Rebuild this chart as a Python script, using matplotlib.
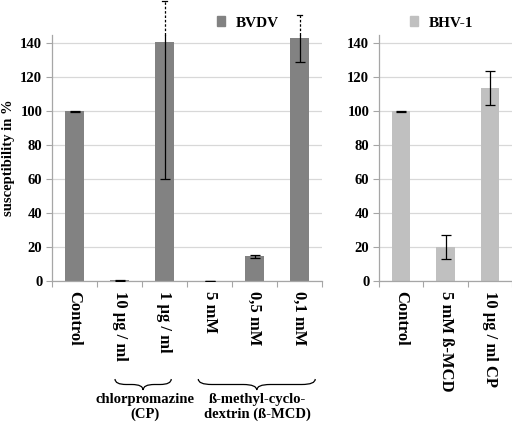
import matplotlib

matplotlib.use("Agg")
import matplotlib.pyplot as plt
import matplotlib.transforms as mtransforms
from matplotlib.patches import Patch, PathPatch
from matplotlib.path import Path

plt.rcParams["font.family"] = ["Liberation Serif", "DejaVu Serif"]
plt.rcParams["font.weight"] = "bold"

# BVDV panel
bvdv_labels = ["Control", "10 µg / ml", "1 µg / ml", "5 mM", "0,5 mM", "0,1 mM"]
bvdv_values = [100, 0.3, 141, 0.2, 14.5, 143]
bvdv_err_low = [0.3, 0.3, 81, 0.0, 0.7, 14]
bvdv_err_high = [0.3, 0.3, 24, 0.0, 0.7, 14]

# BHV-1 panel
bhv_labels = ["Control", "5 mM ß-MCD", "10 µg / ml CP"]
bhv_values = [100, 20, 114]
bhv_err = [0.3, 7, 10]

yticks = [0, 20, 40, 60, 80, 100, 120, 140]
YTOP = 145

DARK = "#828282"
LIGHT = "#c0c0c0"
GRID = "#d8d8d8"
AXIS = "#a6a6a6"

W, H = 512, 426
fig = plt.figure(figsize=(W / 100, H / 100), dpi=100)


def px_axes(x0, x1, y0, y1):
    return fig.add_axes([x0 / W, 1 - y1 / H, (x1 - x0) / W, (y1 - y0) / H])


def style_axes(ax, labels):
    n = len(labels)
    ax.set_xlim(-0.5, n - 0.5)
    ax.set_ylim(0, YTOP)
    ax.set_yticks(yticks)
    ax.set_yticklabels([str(t) for t in yticks], fontsize=10.5, fontweight="bold")
    ax.yaxis.grid(True, color=GRID, lw=0.9)
    ax.set_axisbelow(True)
    for s in ("top", "right"):
        ax.spines[s].set_visible(False)
    for s in ("left", "bottom"):
        ax.spines[s].set_color(AXIS)
        ax.spines[s].set_linewidth(0.9)
    ax.tick_params(axis="y", length=4, color=AXIS, pad=3)
    # tick marks sit on the category boundaries, labels in the middle
    ax.set_xticks([i - 0.5 for i in range(n + 1)])
    ax.set_xticklabels([])
    ax.tick_params(axis="x", which="major", length=4, color=AXIS)
    ax.set_xticks(range(n), minor=True)
    ax.tick_params(axis="x", which="minor", length=0, pad=7)
    ax.set_xticklabels(labels, minor=True, rotation=270, va="top", ha="center",
                       fontsize=12, fontweight="bold")


def draw_bars(ax, labels, values, lo, hi, color):
    x = list(range(len(labels)))
    ax.bar(x, values, width=0.42, color=color, zorder=2)
    ax.errorbar(x, values, yerr=[lo, hi], fmt="none", ecolor="black",
                elinewidth=0.9, capsize=3.5, capthick=0.9, zorder=3)
    # dotted continuation of error bars above the plot area
    for xi, v, h in zip(x, values, hi):
        top = v + h
        if top > YTOP:
            ax.plot([xi, xi], [YTOP, top], color="black", lw=0.9, ls=(0, (2, 1.5)),
                    clip_on=False, zorder=3)
            ax.plot([xi - 0.06, xi + 0.06], [top, top], color="black", lw=0.9,
                    clip_on=False, zorder=3)
    style_axes(ax, labels)


ax1 = px_axes(52, 322, 35, 281)
draw_bars(ax1, bvdv_labels, bvdv_values, bvdv_err_low, bvdv_err_high, DARK)
ax1.set_ylabel("susceptibility in %", fontsize=10.5, fontweight="bold", labelpad=4)

ax2 = px_axes(379, 512, 35, 281)
draw_bars(ax2, bhv_labels, bhv_values, bhv_err, bhv_err, LIGHT)

# legends
leg_kw = dict(loc="center left", bbox_transform=fig.transFigure, frameon=False,
              handlelength=0.55, handleheight=0.55, handletextpad=0.7,
              prop={"size": 11, "weight": "bold"})
ax1.legend(handles=[Patch(color=DARK, label="BVDV")],
           bbox_to_anchor=(203 / W, 1 - 23 / H), **leg_kw)
ax2.legend(handles=[Patch(color=LIGHT, label="BHV-1")],
           bbox_to_anchor=(396 / W, 1 - 23 / H), **leg_kw)


def brace(ax, x0, x1, ytop, depth, r):
    trans = mtransforms.blended_transform_factory(ax.transData, fig.transFigure)
    xm = (x0 + x1) / 2
    yb = ytop - depth
    ym = ytop - depth / 2
    verts = [(x0, ytop), (x0, ym), (x0 + r, ym),
             (xm - r, ym),
             (xm, ym), (xm, yb),
             (xm, ym), (xm + r, ym),
             (x1 - r, ym),
             (x1, ym), (x1, ytop)]
    codes = [Path.MOVETO, Path.CURVE3, Path.CURVE3,
             Path.LINETO,
             Path.CURVE3, Path.CURVE3,
             Path.CURVE3, Path.CURVE3,
             Path.LINETO,
             Path.CURVE3, Path.CURVE3]
    ax.add_patch(PathPatch(Path(verts, codes), transform=trans, fill=False,
                           lw=0.9, ec="black", clip_on=False))


brace(ax1, 0.9, 2.15, 1 - 379 / H, 11 / H, 0.25)
brace(ax1, 2.75, 5.35, 1 - 379 / H, 11 / H, 0.3)

txt_kw = dict(ha="center", va="center", fontsize=10.5, fontweight="bold")
fig.text(145 / W, 1 - 400 / H, "chlorpromazine", **txt_kw)
fig.text(145 / W, 1 - 414 / H, "(CP)", **txt_kw)
fig.text(257 / W, 1 - 400 / H, "ß-methyl-cyclo-", **txt_kw)
fig.text(257 / W, 1 - 414 / H, "dextrin (ß-MCD)", **txt_kw)

fig.savefig("out.png", dpi=100)
